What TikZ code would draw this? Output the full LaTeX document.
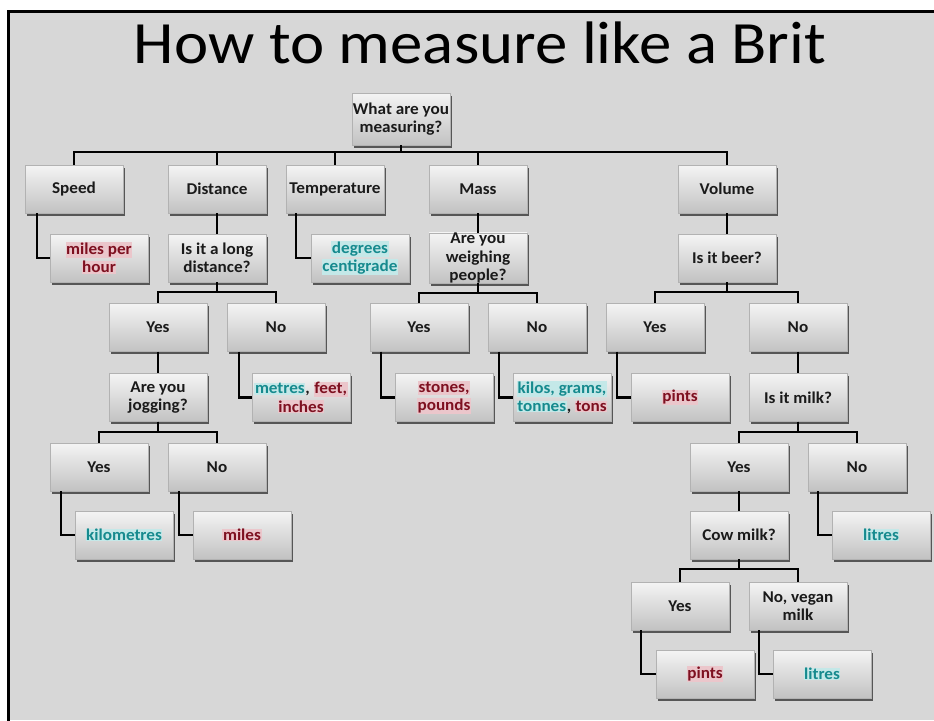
\documentclass[tikz,border=0pt]{standalone}
\usepackage{fontspec}
\setmainfont{Carlito}[FakeStretch=1.04]
\newfontfamily\titlefont{Carlito}[FakeStretch=1.08]
\usetikzlibrary{shadows}
\definecolor{bg}{HTML}{D7D7D7}
\definecolor{rd}{HTML}{7E1020}
\definecolor{tl}{HTML}{168A8E}
\definecolor{rdglow}{HTML}{EBC6CB}
\definecolor{tlglow}{HTML}{C4E8E8}
\definecolor{boxtop}{HTML}{F4F4F4}
\definecolor{boxmid}{HTML}{E6E6E6}
\definecolor{boxbot}{HTML}{C2C2C2}
\definecolor{ink}{HTML}{1A1A1A}
\newcommand\tword[1]{{\setlength{\fboxsep}{0.6pt}\colorbox{tlglow}{\textcolor{tl}{#1}}}}
\newcommand\rword[1]{{\setlength{\fboxsep}{0.6pt}\colorbox{rdglow}{\textcolor{rd}{#1}}}}
\tikzset{
  box/.style={top color=boxtop, middle color=boxmid, bottom color=boxbot,
    draw=black!30, line width=0.4, minimum width=98, minimum height=48,
    inner sep=0, align=center, text=ink,
    font=\fontsize{16.5}{18.5}\selectfont\bfseries,
    drop shadow={shadow xshift=1.5pt, shadow yshift=-2.5pt, opacity=0.6, fill=black}},
  ln/.style={line width=2.2, black},
}
\begin{document}
\begin{tikzpicture}[x=1pt, y=-1pt]
\useasboundingbox (0,0) rectangle (934,720);
\fill[white] (0,0) rectangle (934,720);
\fill[bg] (8,11.5) rectangle (934,720);
\draw[line width=3] (8,721) -- (8,11.5) -- (935,11.5);

\node[anchor=base, font=\titlefont\fontsize{60}{60}\selectfont, text=black] (title) at (480,63) {How to measure like a Brit};

% row 0
\node[box, minimum height=52] (root) at (401,119) {What are you\\measuring?};
% row 1
\node[box] (speed) at (74,189) {Speed};
\node[box] (distance) at (217,189) {Distance};
\node[box] (temp) at (335,189) {Temperature};
\node[box] (mass) at (478,189) {Mass};
\node[box] (volume) at (727,189) {Volume};
% row 2
\node[box] (mph) at (99,258) {\rword{miles per}\\\rword{hour}};
\node[box] (longd) at (217,258) {Is it a long\\distance?};
\node[box] (degc) at (360,258) {\tword{degrees}\\\tword{centigrade}};
\node[box] (weigh) at (478,258) {Are you\\weighing\\people?};
\node[box] (beer) at (727,258) {Is it beer?};
% row 3
\node[box] (yesd) at (158,327.5) {Yes};
\node[box] (nod) at (276,327.5) {No};
\node[box] (yesm) at (419,327.5) {Yes};
\node[box] (nom) at (537,327.5) {No};
\node[box] (yesb) at (655,327.5) {Yes};
\node[box] (nob) at (798,327.5) {No};
% row 4
\node[box] (jog) at (158,397.5) {Are you\\jogging?};
\node[box] (metres) at (301,397.5) {\tword{metres}, \rword{feet,}\\\rword{inches}};
\node[box] (stones) at (444,397.5) {\rword{stones,}\\\rword{pounds}};
\node[box] (kilos) at (562,397.5) {\tword{kilos, grams,}\\\tword{tonnes}, \rword{tons}};
\node[box] (pintsa) at (680,397.5) {\rword{pints}};
\node[box] (milk) at (798,397.5) {Is it milk?};
% row 5
\node[box] (yesj) at (99,467) {Yes};
\node[box] (noj) at (217,467) {No};
\node[box] (yesk) at (739,467) {Yes};
\node[box] (nok) at (857,467) {No};
% row 6
\node[box] (km) at (124,535) {\tword{kilometres}};
\node[box] (miles) at (242,535) {\rword{miles}};
\node[box] (cow) at (739,535) {Cow milk?};
\node[box] (litresa) at (881,535) {\tword{litres}};
% row 7
\node[box] (yesc) at (680,606) {Yes};
\node[box] (vegan) at (798,606) {No, vegan\\milk};
% row 8
\node[box] (pintsb) at (705,674) {\rword{pints}};
\node[box] (litresb) at (822,674) {\tword{litres}};

% connectors
\foreach \c in {speed,distance,temp,mass,volume}
  \draw[ln] (root.south) -- ++(0,7) -| (\c.north);
\draw[ln] (distance.south) -- (longd.north);
\draw[ln] (mass.south) -- (weigh.north);
\draw[ln] (volume.south) -- (beer.north);
\draw[ln] ([xshift=12pt]speed.south west) |- (mph.west);
\draw[ln] ([xshift=10pt]temp.south west) |- (degc.west);
\foreach \p/\a/\b in {longd/yesd/nod, weigh/yesm/nom, beer/yesb/nob, jog/yesj/noj, milk/yesk/nok, cow/yesc/vegan}{
  \draw[ln] (\p.south) -- ++(0,10) -| (\a.north);
  \draw[ln] (\p.south) -- ++(0,10) -| (\b.north);
}
\draw[ln] (yesd.south) -- (jog.north);
\draw[ln] (nob.south) -- (milk.north);
\draw[ln] (yesk.south) -- (cow.north);
\draw[ln] ([xshift=12pt]nod.south west) |- (metres.west);
\draw[ln] ([xshift=11pt]yesm.south west) |- (stones.west);
\draw[ln] ([xshift=11pt]nom.south west) |- (kilos.west);
\draw[ln] ([xshift=11pt]yesb.south west) |- (pintsa.west);
\draw[ln] ([xshift=11pt]yesj.south west) |- (km.west);
\draw[ln] ([xshift=11pt]noj.south west) |- (miles.west);
\draw[ln] ([xshift=10pt]nok.south west) |- (litresa.west);
\draw[ln] ([xshift=10pt]yesc.south west) |- (pintsb.west);
\draw[ln] ([xshift=10pt]vegan.south west) |- (litresb.west);
\end{tikzpicture}
\end{document}
